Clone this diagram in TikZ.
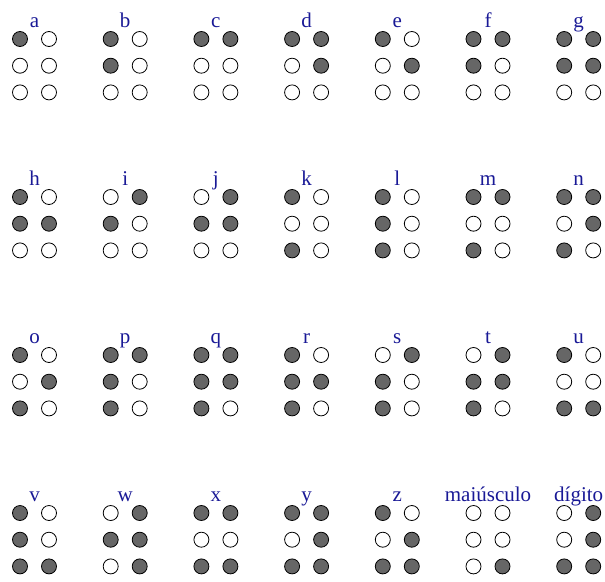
\documentclass[tikz,border=0pt]{standalone}
\usepackage{fontspec}
\setmainfont{Liberation Serif}
\usetikzlibrary{positioning}
\definecolor{dotgray}{RGB}{102,102,102}
\definecolor{lblblue}{RGB}{25,25,150}
\makeatletter
\newcommand{\setdotfill}[2]{\edef\tmp@pins{\noexpand\in@{#1}{#2}}\tmp@pins
  \ifin@\def\dotfill{dotgray}\else\def\dotfill{white}\fi}
\makeatother

\begin{document}
\begin{tikzpicture}[x=1pt, y=-1pt]
    \tikzstyle{braille} = [draw, circle, minimum size=15pt, inner sep=0pt, line width=0.8pt]
    \tikzstyle{letter}  = [anchor=base, text=lblblue, font=\fontsize{21}{21}\selectfont, inner sep=0pt]

    \useasboundingbox (0,0) rectangle (605,581);

    % one cell per letter: name / column / row / raised dots
    \foreach \lbl/\txt/\col/\row/\pins in {
        a/a/0/0/1, b/b/1/0/12, c/c/2/0/14, d/d/3/0/145, e/e/4/0/15, f/f/5/0/124, g/g/6/0/1245,
        h/h/0/1/125, i/i/1/1/24, j/j/2/1/245, k/k/3/1/13, l/l/4/1/123, m/m/5/1/134, n/n/6/1/1345,
        o/o/0/2/135, p/p/1/2/1234, q/q/2/2/12345, r/r/3/2/1235, s/s/4/2/234, t/t/5/2/2345, u/u/6/2/136,
        v/v/0/3/1236, w/w/1/3/2456, x/x/2/3/1346, y/y/3/3/13456, z/z/4/3/1356,
        caps/maiúsculo/5/3/6, digit/dígito/6/3/3456} {
        \node [letter] (lbl-\lbl) at (34.5+90.7*\col, 27+158*\row) {\txt};
        \foreach \k/\dx/\dy in {1/0/0, 2/0/1, 3/0/2, 4/1/0, 5/1/1, 6/1/2} {
            \setdotfill{\k}{\pins}
            \node [braille, fill=\dotfill] (\lbl-\k) at (20+90.7*\col+29*\dx, 39+158*\row+26.7*\dy) {};
        }
    }

\end{tikzpicture}
\end{document}
